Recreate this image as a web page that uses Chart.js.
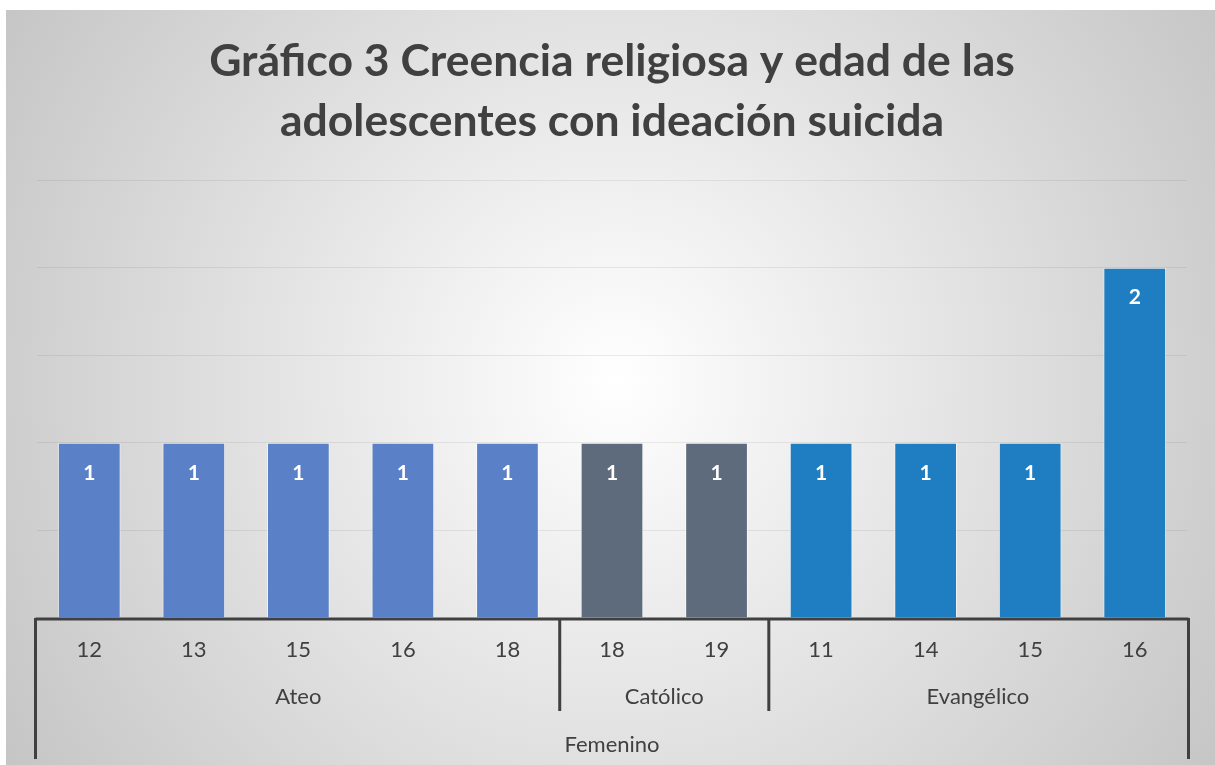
<!DOCTYPE html>
<html>
<head>
<meta charset="utf-8">
<script src="https://cdn.jsdelivr.net/npm/chart.js@4.4.0/dist/chart.umd.min.js"></script>
<style>
  html, body { margin: 0; padding: 0; background: #fff; }
  #wrap { position: absolute; left: 6px; top: 10px; width: 1209px; height: 755px; }
</style>
</head>
<body>
<div id="wrap"><canvas id="chart" width="1209" height="755"></canvas></div>
<script>
// data
var edades = ['12', '13', '15', '16', '18', '18', '19', '11', '14', '15', '16'];
var creencias = ['Ateo', 'Ateo', 'Ateo', 'Ateo', 'Ateo', 'Católico', 'Católico', 'Evangélico', 'Evangélico', 'Evangélico', 'Evangélico'];
var sexo = 'Femenino';
var valores = [1, 1, 1, 1, 1, 1, 1, 1, 1, 1, 2];
var colores = { 'Ateo': '#5a80c8', 'Católico': '#5d6b7d', 'Evangélico': '#1f7dc2' };

var ink = '#404040';
var fuente = 'Lato, "Open Sans", sans-serif';

var fondo = {
  id: 'fondo',
  beforeDraw: function(chart) {
    var ctx = chart.ctx;
    var g = ctx.createRadialGradient(610, 370, 0, 610, 370, 760);
    g.addColorStop(0, '#ffffff');
    g.addColorStop(1, '#c2c2c2');
    ctx.save();
    ctx.fillStyle = g;
    ctx.fillRect(0, 0, chart.width, chart.height);
    ctx.restore();
  }
};

var ejeMultinivel = {
  id: 'ejeMultinivel',
  afterDraw: function(chart) {
    var ctx = chart.ctx;
    var x = chart.scales.x;
    var area = chart.chartArea;
    var paso = x.getPixelForValue(1) - x.getPixelForValue(0);
    var base = area.bottom;
    ctx.save();

    // etiquetas de valor
    var meta = chart.getDatasetMeta(0);
    ctx.fillStyle = '#ffffff';
    ctx.font = 'bold 21px ' + fuente;
    ctx.textAlign = 'center';
    ctx.textBaseline = 'middle';
    meta.data.forEach(function(bar, i) {
      ctx.fillText(String(valores[i]), bar.x, bar.y + 30);
    });

    // linea del eje
    ctx.strokeStyle = ink;
    ctx.lineWidth = 3;
    ctx.beginPath();
    ctx.moveTo(area.left - 1.5, base + 1);
    ctx.lineTo(area.right + 1.5, base + 1);
    ctx.stroke();

    // edades
    ctx.fillStyle = ink;
    ctx.font = '22px ' + fuente;
    edades.forEach(function(e, i) {
      ctx.fillText(e, x.getPixelForValue(i), base + 32);
    });

    // grupos de creencia
    var inicio = 0;
    for (var i = 1; i <= creencias.length; i++) {
      if (i === creencias.length || creencias[i] !== creencias[inicio]) {
        var x0 = x.getPixelForValue(inicio) - paso / 2;
        var x1 = x.getPixelForValue(i - 1) + paso / 2;
        ctx.fillText(creencias[inicio], (x0 + x1) / 2, base + 79);
        if (i < creencias.length) {
          ctx.beginPath();
          ctx.moveTo(x1, base);
          ctx.lineTo(x1, base + 93);
          ctx.stroke();
        }
        inicio = i;
      }
    }

    // nivel externo
    ctx.fillText(sexo, (area.left + area.right) / 2, base + 127);
    ctx.beginPath();
    ctx.moveTo(area.left - 1.5, base);
    ctx.lineTo(area.left - 1.5, base + 141);
    ctx.moveTo(area.right + 1.5, base);
    ctx.lineTo(area.right + 1.5, base + 141);
    ctx.stroke();

    ctx.restore();
  }
};

new Chart(document.getElementById('chart'), {
  type: 'bar',
  data: {
    labels: edades,
    datasets: [{
      data: valores,
      backgroundColor: creencias.map(function(c) { return colores[c]; }),
      borderColor: 'rgba(255,255,255,0.55)',
      borderWidth: 1,
      barPercentage: 0.6,
      categoryPercentage: 1
    }]
  },
  options: {
    responsive: false,
    animation: false,
    layout: { padding: { left: 31, right: 28, top: 0, bottom: 139 } },
    plugins: {
      legend: { display: false },
      tooltip: { enabled: false },
      title: {
        display: true,
        text: ['Gráfico 3 Creencia religiosa y edad de las', 'adolescentes con ideación suicida'],
        color: ink,
        font: { family: fuente, size: 44.5, weight: 'bold', lineHeight: 1.35 },
        padding: { top: 22, bottom: 28 }
      }
    },
    scales: {
      x: {
        ticks: { display: false },
        grid: { display: false },
        border: { display: false }
      },
      y: {
        min: 0,
        max: 2.5,
        ticks: { display: false, stepSize: 0.5 },
        grid: { color: 'rgba(0,0,0,0.07)', drawTicks: false },
        border: { display: false }
      }
    }
  },
  plugins: [fondo, ejeMultinivel]
});
</script>
</body>
</html>
